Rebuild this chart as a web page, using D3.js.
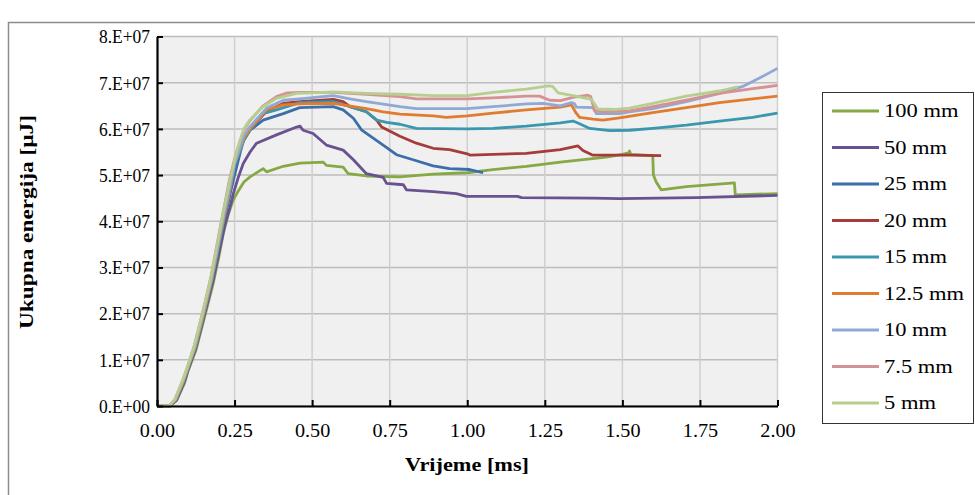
<!DOCTYPE html>
<html>
<head>
<meta charset="utf-8">
<script src="https://cdn.jsdelivr.net/npm/d3@7"></script>
<style>
  html, body { margin: 0; padding: 0; background: #fff; }
  svg { display: block; }
  text { font-family: "Liberation Serif", "Times New Roman", serif; fill: #000; }
</style>
</head>
<body>
<svg id="chart" width="975" height="495"></svg>
<script>
// ---- data (time in ms, energy in units of 1E7 µJ) ----
const seriesNames = ["100 mm", "50 mm", "25 mm", "20 mm", "15 mm", "12.5 mm", "10 mm", "7.5 mm", "5 mm"];
const seriesColors = ["#86a845", "#6a5190", "#3c6eaa", "#a53c3a", "#3a97b0", "#e07c30", "#8fa9d4", "#d69292", "#b6cf90"];
const xTicks = [0, 0.25, 0.5, 0.75, 1.0, 1.25, 1.5, 1.75, 2.0];
const yTicks = [0, 1, 2, 3, 4, 5, 6, 7, 8];
const ENERGY_UNIT = 1e7;

const s100 = [[0,0],[0.043,0],[0.064,0.13],[0.089,0.5],[0.1,0.76],[0.126,1.22],[0.153,1.92],[0.181,2.65],[0.2,3.25],[0.214,3.75],[0.23,4.15],[0.245,4.45],[0.257,4.6],[0.28,4.85],[0.3,4.96],[0.342,5.14],[0.353,5.07],[0.407,5.19],[0.461,5.26],[0.536,5.28],[0.546,5.21],[0.6,5.17],[0.616,5.03],[0.675,4.98],[0.783,4.96],[0.89,5.02],[1.0,5.05],[1.083,5.12],[1.19,5.19],[1.3,5.28],[1.448,5.39],[1.5,5.45],[1.52,5.48],[1.523,5.52],[1.527,5.45],[1.598,5.42],[1.6,5.0],[1.609,4.85],[1.625,4.68],[1.706,4.75],[1.861,4.83],[1.864,4.57],[2.0,4.6]];
const s50 = [[0,0],[0.042,0],[0.063,0.13],[0.088,0.52],[0.1,0.78],[0.125,1.25],[0.152,1.95],[0.18,2.7],[0.196,3.2],[0.22,3.95],[0.235,4.3],[0.246,4.6],[0.262,4.95],[0.278,5.25],[0.3,5.5],[0.321,5.69],[0.385,5.87],[0.45,6.04],[0.461,6.06],[0.471,5.97],[0.503,5.9],[0.546,5.65],[0.6,5.54],[0.633,5.33],[0.675,5.03],[0.729,4.95],[0.74,4.82],[0.794,4.79],[0.804,4.68],[0.89,4.64],[0.965,4.6],[0.997,4.54],[1.162,4.54],[1.175,4.51],[1.405,4.5],[1.491,4.49],[1.738,4.51],[2.0,4.56]];
const s25 = [[0,0],[0.04,0],[0.062,0.12],[0.087,0.53],[0.1,0.8],[0.124,1.25],[0.151,1.97],[0.178,2.72],[0.194,3.25],[0.218,4.05],[0.236,4.6],[0.25,5.0],[0.278,5.75],[0.3,5.97],[0.342,6.19],[0.407,6.33],[0.46,6.46],[0.568,6.48],[0.6,6.41],[0.633,6.23],[0.659,5.98],[0.729,5.65],[0.772,5.44],[0.836,5.31],[0.89,5.2],[0.943,5.14],[1.008,5.12],[1.051,5.05]];
const s20 = [[0,0],[0.04,0],[0.06,0.15],[0.085,0.57],[0.1,0.86],[0.122,1.3],[0.149,2.02],[0.176,2.8],[0.192,3.35],[0.216,4.2],[0.235,4.85],[0.25,5.25],[0.28,5.8],[0.3,6.0],[0.353,6.38],[0.407,6.55],[0.46,6.59],[0.568,6.64],[0.6,6.59],[0.622,6.48],[0.675,6.37],[0.708,6.19],[0.724,6.04],[0.783,5.84],[0.836,5.69],[0.89,5.58],[0.943,5.55],[1.0,5.46],[1.01,5.43],[1.083,5.45],[1.19,5.47],[1.3,5.55],[1.357,5.63],[1.373,5.53],[1.405,5.43],[1.523,5.43],[1.625,5.42]];
const s15 = [[0,0],[0.04,0],[0.061,0.14],[0.086,0.55],[0.1,0.83],[0.123,1.27],[0.15,1.98],[0.177,2.74],[0.193,3.28],[0.217,4.1],[0.236,4.7],[0.25,5.2],[0.28,5.75],[0.3,5.98],[0.342,6.33],[0.385,6.41],[0.46,6.57],[0.568,6.59],[0.622,6.48],[0.675,6.37],[0.708,6.19],[0.74,6.14],[0.783,6.1],[0.836,6.01],[1.0,6.0],[1.083,6.01],[1.19,6.06],[1.3,6.13],[1.341,6.17],[1.362,6.11],[1.395,6.01],[1.459,5.96],[1.523,5.97],[1.598,6.01],[1.706,6.08],[1.813,6.17],[1.92,6.25],[2.0,6.34]];
const s12_5 = [[0,0],[0.04,0],[0.061,0.14],[0.086,0.55],[0.1,0.83],[0.123,1.27],[0.15,1.98],[0.177,2.75],[0.193,3.3],[0.217,4.12],[0.236,4.72],[0.25,5.25],[0.28,5.8],[0.3,6.0],[0.353,6.41],[0.407,6.52],[0.46,6.54],[0.568,6.55],[0.675,6.44],[0.729,6.37],[0.783,6.32],[0.89,6.28],[0.933,6.25],[1.0,6.28],[1.083,6.34],[1.19,6.41],[1.3,6.47],[1.336,6.52],[1.35,6.35],[1.362,6.25],[1.405,6.21],[1.437,6.19],[1.491,6.24],[1.598,6.35],[1.706,6.46],[1.813,6.57],[1.92,6.65],[2.0,6.71]];
const s10 = [[0,0],[0.04,0],[0.06,0.15],[0.085,0.56],[0.1,0.85],[0.122,1.28],[0.149,2.0],[0.176,2.76],[0.192,3.3],[0.216,4.15],[0.235,4.75],[0.25,5.25],[0.28,5.85],[0.3,6.05],[0.353,6.45],[0.407,6.62],[0.46,6.65],[0.568,6.72],[0.622,6.65],[0.675,6.59],[0.783,6.48],[0.836,6.44],[1.0,6.44],[1.083,6.48],[1.19,6.54],[1.244,6.55],[1.3,6.5],[1.336,6.57],[1.345,6.55],[1.352,6.47],[1.405,6.46],[1.416,6.33],[1.491,6.33],[1.523,6.37],[1.598,6.44],[1.706,6.59],[1.813,6.77],[1.888,6.92],[1.942,7.1],[2.0,7.31]];
const s7_5 = [[0,0],[0.04,0],[0.058,0.14],[0.083,0.55],[0.1,0.88],[0.12,1.3],[0.147,2.02],[0.174,2.8],[0.19,3.38],[0.214,4.22],[0.233,4.88],[0.25,5.35],[0.265,5.68],[0.28,5.97],[0.3,6.18],[0.342,6.5],[0.385,6.7],[0.42,6.78],[0.46,6.79],[0.568,6.79],[0.675,6.75],[0.783,6.7],[0.836,6.65],[1.0,6.65],[1.083,6.67],[1.19,6.71],[1.233,6.71],[1.266,6.62],[1.3,6.61],[1.341,6.68],[1.389,6.73],[1.398,6.7],[1.41,6.4],[1.437,6.37],[1.523,6.39],[1.598,6.48],[1.706,6.62],[1.813,6.77],[1.92,6.87],[2.0,6.94]];
const s5 = [[0,0],[0.038,0],[0.058,0.15],[0.083,0.57],[0.1,0.88],[0.12,1.3],[0.147,2.02],[0.174,2.78],[0.19,3.35],[0.214,4.2],[0.233,4.82],[0.25,5.32],[0.265,5.7],[0.28,6.0],[0.3,6.2],[0.342,6.48],[0.385,6.66],[0.45,6.77],[0.5,6.78],[0.568,6.8],[0.675,6.77],[0.783,6.75],[0.89,6.72],[1.0,6.72],[1.083,6.79],[1.19,6.86],[1.262,6.93],[1.275,6.92],[1.293,6.78],[1.341,6.72],[1.4,6.64],[1.421,6.43],[1.48,6.42],[1.523,6.45],[1.598,6.55],[1.706,6.71],[1.813,6.82],[1.872,6.91]];

const seriesData = [s100, s50, s25, s20, s15, s12_5, s10, s7_5, s5];

// ---- layout ----
const svg = d3.select("#chart");
const plot = { left: 157, right: 777.5, top: 36.5, bottom: 406 };

const x = d3.scaleLinear().domain([0, 2]).range([plot.left, plot.right]);
const y = d3.scaleLinear().domain([0, 8 * ENERGY_UNIT]).range([plot.bottom, plot.top]);

function stretchText(sel, factor) {
  sel.each(function () {
    const w = this.getComputedTextLength();
    this.setAttribute("textLength", (w * factor).toFixed(1));
    this.setAttribute("lengthAdjust", "spacingAndGlyphs");
  });
}
function fixLength(sel, len) {
  sel.attr("textLength", len).attr("lengthAdjust", "spacingAndGlyphs");
}

// outer chart frame
svg.append("rect")
  .attr("x", 8.5).attr("y", 22.5)
  .attr("width", 990).attr("height", 500)
  .attr("fill", "#fff").attr("stroke", "#8c8c8c").attr("stroke-width", 1.5);

// plot area
svg.append("rect")
  .attr("x", plot.left).attr("y", plot.top)
  .attr("width", plot.right - plot.left).attr("height", plot.bottom - plot.top)
  .attr("fill", "#f0f0f0");

// gridlines
svg.append("g").selectAll("line").data(yTicks.map(d => d * ENERGY_UNIT)).join("line")
  .attr("x1", plot.left).attr("x2", plot.right)
  .attr("y1", d => y(d)).attr("y2", d => y(d))
  .attr("stroke", "#bdbdbd").attr("stroke-width", 1.5);
svg.append("g").selectAll("line").data(xTicks.slice(1)).join("line")
  .attr("x1", d => x(d)).attr("x2", d => x(d))
  .attr("y1", plot.top).attr("y2", plot.bottom)
  .attr("stroke", "#cfcfcf").attr("stroke-width", 1.5);

// series lines
const line = d3.line()
  .x(d => x(d[0]))
  .y(d => y(d[1] * ENERGY_UNIT));

svg.append("g").selectAll("path").data(seriesData).join("path")
  .attr("d", d => line(d))
  .attr("fill", "none")
  .attr("stroke", (d, i) => seriesColors[i])
  .attr("stroke-width", 2.8)
  .attr("stroke-linejoin", "round");

// axes
const yAxis = d3.axisLeft(y)
  .tickValues(yTicks.map(d => d * ENERGY_UNIT))
  .tickSizeInner(-6).tickSizeOuter(0).tickPadding(7)
  .tickFormat(d => d === 0 ? "0.E+00" : `${d / ENERGY_UNIT}.E+07`);
const gy = svg.append("g").attr("transform", `translate(${plot.left},0)`).call(yAxis);
gy.select(".domain").attr("stroke", "#000").attr("stroke-width", 2.2);
gy.selectAll(".tick line").attr("stroke", "#000").attr("stroke-width", 2);
gy.selectAll(".tick text")
  .style("font-family", '"Liberation Serif", serif').style("font-size", "18px")
  .attr("dy", "0.35em").call(stretchText, 0.97);

const xAxis = d3.axisBottom(x)
  .tickValues(xTicks)
  .tickSizeInner(-6).tickSizeOuter(0).tickPadding(18)
  .tickFormat(d3.format(".2f"));
const gx = svg.append("g").attr("transform", `translate(0,${plot.bottom})`).call(xAxis);
gx.select(".domain").attr("stroke", "#000").attr("stroke-width", 2.2);
gx.selectAll(".tick line").attr("stroke", "#000").attr("stroke-width", 2);
gx.selectAll(".tick text")
  .style("font-family", '"Liberation Serif", serif').style("font-size", "18px")
  .call(stretchText, 1.12);

// axis titles
svg.append("text")
  .attr("x", 467).attr("y", 471)
  .attr("text-anchor", "middle")
  .style("font-size", "18px").style("font-weight", "bold")
  .text("Vrijeme [ms]").call(fixLength, 124);

svg.append("text")
  .attr("transform", `translate(33,222) rotate(-90)`)
  .attr("text-anchor", "middle")
  .style("font-size", "18px").style("font-weight", "bold")
  .text("Ukupna energija [µJ]").call(fixLength, 214);

// legend
const legend = svg.append("g");
legend.append("rect")
  .attr("x", 822.5).attr("y", 92.5).attr("width", 151).attr("height", 331)
  .attr("fill", "#fff").attr("stroke", "#333").attr("stroke-width", 1);
const items = legend.selectAll("g.item").data(seriesNames).join("g")
  .attr("class", "item")
  .attr("transform", (d, i) => `translate(0,${111 + i * 36.5})`);
items.append("line")
  .attr("x1", 832).attr("x2", 879).attr("y1", 0).attr("y2", 0)
  .attr("stroke", (d, i) => seriesColors[i]).attr("stroke-width", 2.8);
items.append("text")
  .attr("x", 884).attr("y", 0).attr("dy", "0.35em")
  .style("font-size", "18px")
  .text(d => d).call(stretchText, 1.25);
</script>
</body>
</html>
